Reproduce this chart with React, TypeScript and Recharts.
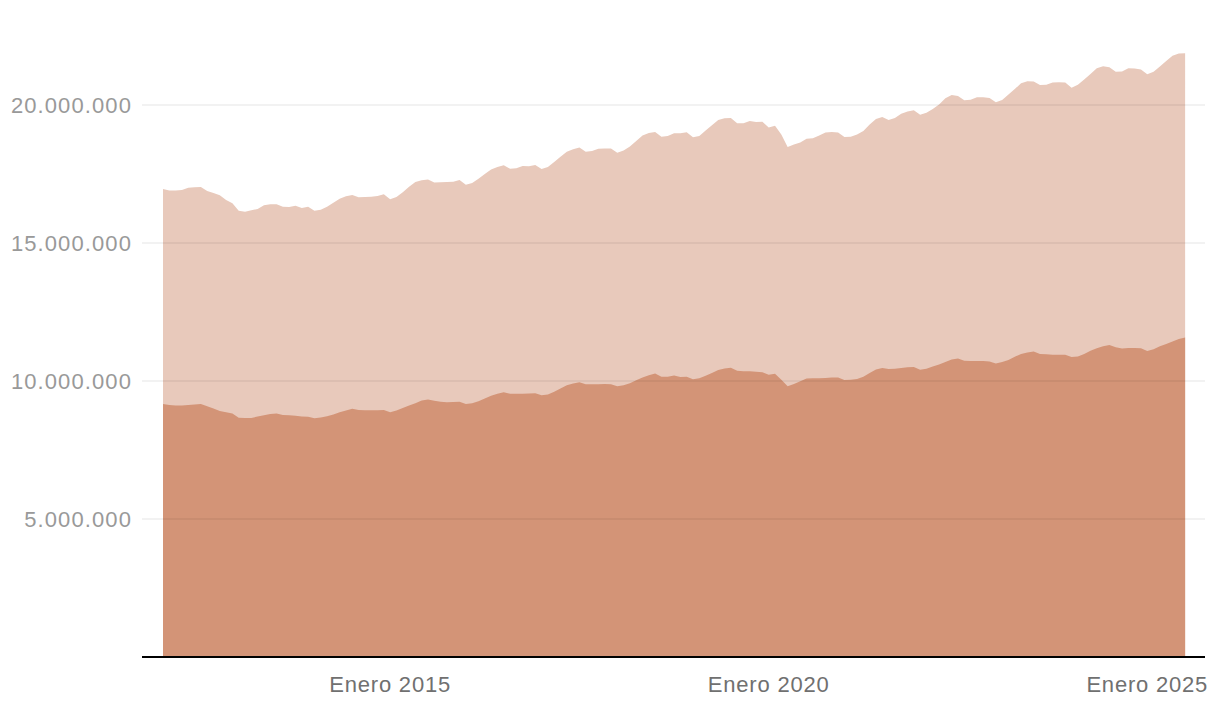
import React from "react";
import { AreaChart, Area, XAxis, YAxis, ReferenceLine } from "recharts";

// Monthly data, January 2012 – July 2025 (values in thousands)
const startYear = 2012;

const totalSeries = [
  16957, 16902, 16902, 16920, 17004, 17022, 17029, 16884, 16812, 16728, 16558, 16438,
  16170, 16134, 16185, 16232, 16366, 16402, 16402, 16315, 16304, 16352, 16268, 16315,
  16170, 16207, 16315, 16460, 16605, 16692, 16739, 16656, 16667, 16678, 16703, 16764,
  16583, 16667, 16837, 17040, 17210, 17272, 17301, 17192, 17203, 17210, 17221, 17283,
  17112, 17174, 17330, 17500, 17663, 17754, 17815, 17692, 17707, 17790, 17783, 17826,
  17681, 17754, 17935, 18123, 18308, 18395, 18460, 18308, 18333, 18417, 18424, 18424,
  18272, 18348, 18496, 18696, 18895, 18986, 19022, 18851, 18877, 18975, 18975, 19015,
  18833, 18877, 19073, 19265, 19457, 19522, 19529, 19337, 19337, 19420, 19384, 19391,
  19185, 19250, 18935, 18478, 18565, 18638, 18775, 18794, 18895, 19000, 19025, 19007,
  18841, 18851, 18935, 19058, 19290, 19493, 19565, 19457, 19529, 19681, 19765, 19812,
  19649, 19718, 19855, 20018, 20246, 20362, 20326, 20170, 20188, 20279, 20279, 20254,
  20098, 20181, 20380, 20580, 20786, 20859, 20855, 20725, 20736, 20815, 20823, 20819,
  20627, 20732, 20924, 21123, 21330, 21402, 21370, 21207, 21214, 21330, 21323, 21290,
  21116, 21203, 21395, 21594, 21786, 21862, 21873,
];

const lowerSeries = [
  9167, 9130, 9109, 9116, 9130, 9152, 9167, 9083, 9000, 8913, 8870, 8822,
  8670, 8659, 8659, 8714, 8757, 8804, 8822, 8768, 8757, 8739, 8714, 8703,
  8652, 8678, 8721, 8786, 8866, 8935, 8993, 8949, 8938, 8938, 8942, 8946,
  8866, 8931, 9022, 9116, 9192, 9294, 9330, 9283, 9250, 9228, 9239, 9250,
  9167, 9196, 9268, 9366, 9467, 9540, 9594, 9540, 9540, 9540, 9547, 9554,
  9482, 9515, 9609, 9728, 9844, 9909, 9953, 9880, 9880, 9884, 9888, 9880,
  9812, 9848, 9917, 10029, 10130, 10207, 10272, 10156, 10156, 10196, 10145, 10156,
  10065, 10098, 10188, 10290, 10399, 10453, 10482, 10373, 10351, 10351, 10337, 10319,
  10225, 10265, 10044, 9808, 9891, 9993, 10094, 10098, 10101, 10112, 10123, 10127,
  10036, 10044, 10072, 10156, 10290, 10417, 10471, 10435, 10446, 10475, 10500, 10507,
  10409, 10446, 10525, 10601, 10688, 10779, 10812, 10732, 10725, 10725, 10725, 10710,
  10638, 10685, 10761, 10877, 10978, 11036, 11072, 10978, 10967, 10953, 10953, 10949,
  10866, 10888, 10978, 11094, 11188, 11257, 11304, 11221, 11178, 11196, 11196, 11188,
  11087, 11149, 11261, 11341, 11435, 11522, 11573,
];

const xTickYears = [2015, 2020, 2025];
const yTicks = [5000000, 10000000, 15000000, 20000000];

const data = totalSeries.map((t, i) => ({
  idx: i,
  year: startYear + Math.floor(i / 12),
  month: (i % 12) + 1,
  total: t * 1000,
  lower: lowerSeries[i] * 1000,
}));

const xTicks = xTickYears.map((y) => (y - startYear) * 12);

const fmtNum = (v: number) =>
  Math.round(v).toString().replace(/\B(?=(\d{3})+(?!\d))/g, ".");

const FONT = '"Liberation Sans", Arial, Helvetica, sans-serif';

export default function App() {
  return (
    <div style={{ width: 1204, height: 690 }}>
      <AreaChart
        width={1204}
        height={690}
        data={data}
        margin={{ top: 41.8, right: 7, bottom: 0, left: 0 }}
      >
        <XAxis
          dataKey="idx"
          type="number"
          domain={[-3.33, 165.15]}
          allowDataOverflow
          ticks={xTicks}
          tickFormatter={(v: number) => `Enero ${startYear + Math.round(v / 12)}`}
          axisLine={{ stroke: "#000", strokeWidth: 2 }}
          tickLine={false}
          tickSize={0}
          tickMargin={19}
          height={41}
          tick={{ fill: "#707070", fontSize: 22, fontFamily: FONT, letterSpacing: 0.8 }}
          interval={0}
        />
        <YAxis
          type="number"
          domain={[0, 22000000]}
          allowDataOverflow
          ticks={yTicks}
          tickFormatter={fmtNum}
          axisLine={false}
          tickLine={false}
          tickSize={0}
          tickMargin={10}
          width={134}
          tick={{ fill: "#999999", fontSize: 22, fontFamily: FONT, letterSpacing: 1.1 }}
          interval={0}
        />
        <Area
          type="linear"
          dataKey="total"
          stroke="none"
          fill="#e8c9bb"
          fillOpacity={1}
          isAnimationActive={false}
          dot={false}
          activeDot={false}
        />
        <Area
          type="linear"
          dataKey="lower"
          stroke="none"
          fill="#d39477"
          fillOpacity={1}
          isAnimationActive={false}
          dot={false}
          activeDot={false}
        />
        {yTicks.map((t) => (
          <ReferenceLine
            key={t}
            y={t}
            stroke="#000"
            strokeOpacity={0.1}
            strokeWidth={1}
            ifOverflow="extendDomain"
          />
        ))}
      </AreaChart>
    </div>
  );
}
